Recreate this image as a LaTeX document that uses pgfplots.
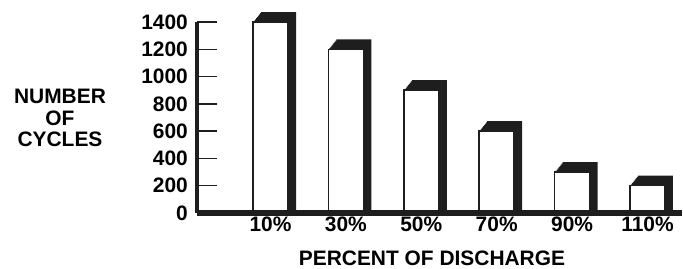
\documentclass[border=0pt]{standalone}
\usepackage{fontspec}
\setmainfont{Liberation Sans}
\usepackage{pgfplots}
\pgfplotsset{compat=1.18}
\usepackage{pgfplotstable}
\pgfplotstableread{
x v
0 1400
1 1200
2 900
3 600
4 300
5 200
}\data
\definecolor{ink}{HTML}{1E1E1E}
\begin{document}
\begin{tikzpicture}[font=\fontsize{21}{20}\selectfont\bfseries]
\useasboundingbox (0,0) rectangle (683bp,269bp);
\begin{axis}[
  at={(197bp,56bp)}, anchor=south west,
  scale only axis, width=485bp, height=191bp,
  xmin=-0.975, xmax=5.458, ymin=0, ymax=1400,
  clip=false, axis on top,
  axis x line*=bottom, axis y line*=left,
  x axis line style={-, line width=5bp, color=ink},
  y axis line style={-, line width=3bp, color=ink},
  ytick={0,200,...,1400},
  xtick={0,1,2,3,4,5},
  xticklabels={10\%,30\%,50\%,70\%,90\%,110\%},
  tick align=inside,
  major tick length=20bp,
  ytick style={line width=1.5bp, color=ink},
  xtick style={draw=none},
  yticklabel style={xshift=-7bp, inner sep=2bp},
  xticklabel style={inner sep=2bp, yshift=-2bp},
  /pgf/number format/assume math mode=true,
  /pgf/number format/1000 sep={},
  ylabel={NUMBER\\[1.5bp]OF\\[1.5bp]CYCLES},
  ylabel style={rotate=-90, align=center, font=\fontsize{21}{20}\selectfont\bfseries,
    at={(axis description cs:-0.2825,0.497)}, anchor=center},
  xlabel={PERCENT OF DISCHARGE},
  xlabel style={at={(axis description cs:0.4845,-0.2356)}, anchor=center},
]
\pgfplotsinvokeforeach{8,7,6,5,4,3,2,1}{
  \addplot[ybar, bar width=35bp, bar shift=#1bp, fill=ink, draw=none]
    table[x=x, y expr=\thisrow{v}+#1*9.16]{\data};
}
\addplot[ybar, bar width=35bp, bar shift=0bp, fill=white, draw=ink, line width=1.5bp]
  table[x=x, y=v]{\data};
\end{axis}
\end{tikzpicture}
\end{document}
